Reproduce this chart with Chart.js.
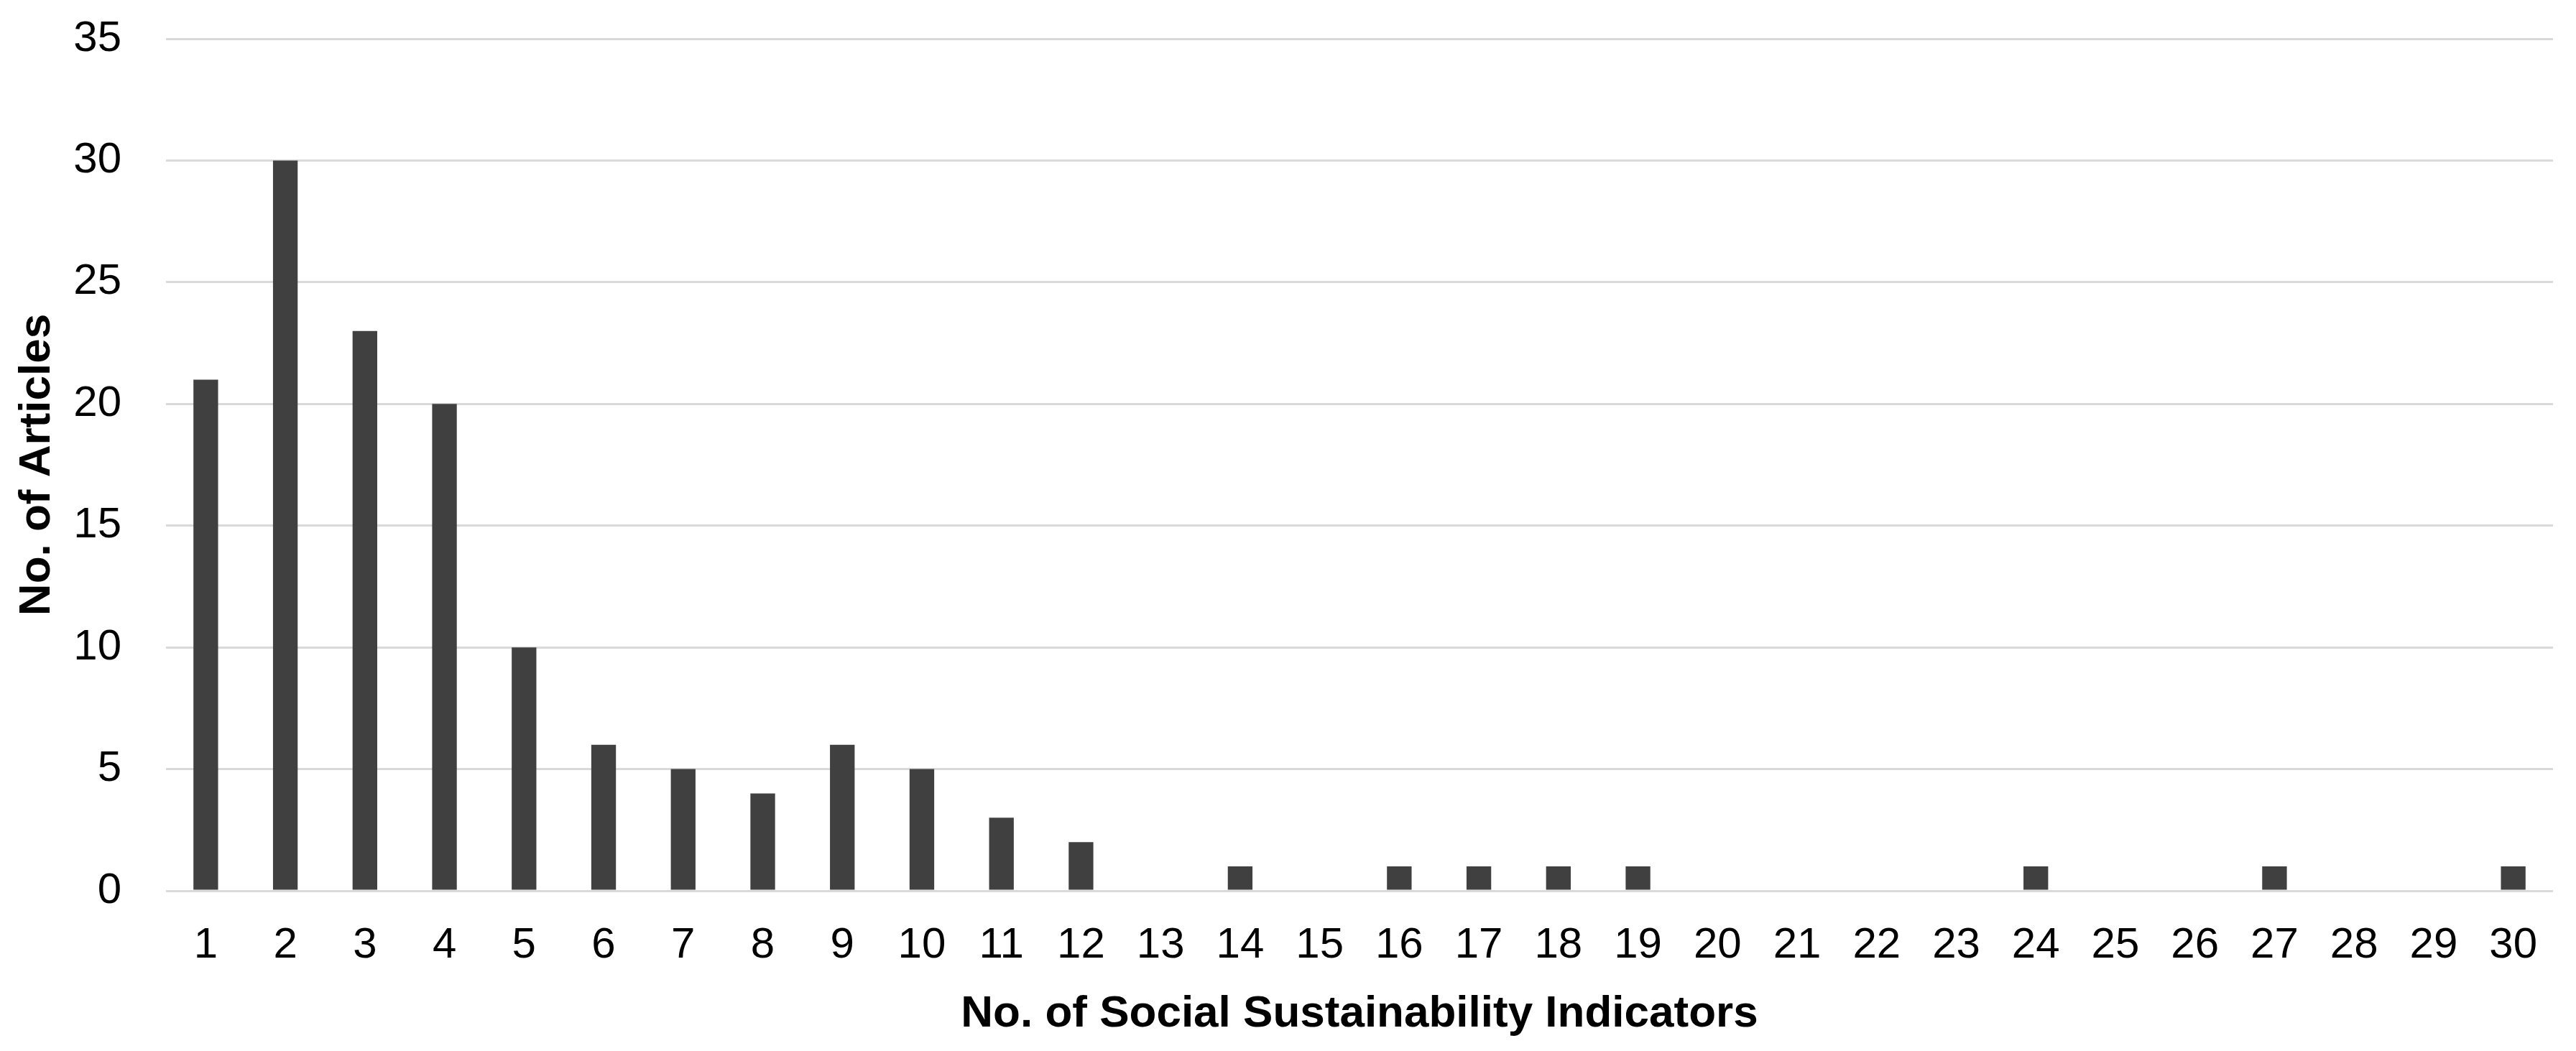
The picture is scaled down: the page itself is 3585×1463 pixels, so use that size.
<!DOCTYPE html>
<html lang="en">
<head>
  <meta charset="UTF-8" />
  <title>Social Sustainability Indicators per Article</title>
  <script src="https://cdn.jsdelivr.net/npm/chart.js"></script>
  <style>
    html, body {
      margin: 0;
      padding: 0;
      background: #ffffff;
    }
    #wrap {
      width: 3585px;
      height: 1463px;
    }
  </style>
</head>
<body>
  <div id="wrap"><canvas id="chart" width="3585" height="1463"></canvas></div>

  <script>
    // number of indicators per article (x) and how many articles (y)
    const indicators = ['1', '2', '3', '4', '5', '6', '7', '8', '9', '10',
      '11', '12', '13', '14', '15', '16', '17', '18', '19', '20',
      '21', '22', '23', '24', '25', '26', '27', '28', '29', '30'];
    const articles = [21, 30, 23, 20, 10, 6, 5, 4, 6, 5,
      3, 2, 0, 1, 0, 1, 1, 1, 1, 0,
      0, 0, 0, 1, 0, 0, 1, 0, 0, 1];
    const yTicks = [0, 5, 10, 15, 20, 25, 30, 35];

    const fontFamily = "'Liberation Sans', Arial, sans-serif";

    new Chart(document.getElementById('chart').getContext('2d'), {
      type: 'bar',
      data: {
        labels: indicators,
        datasets: [{
          label: 'No. of Articles',
          data: articles,
          backgroundColor: '#404040',
          borderWidth: 0,
          barPercentage: 0.62,
          categoryPercentage: 0.5
        }]
      },
      options: {
        responsive: false,
        animation: false,
        devicePixelRatio: 1,
        layout: {
          padding: { left: 0, right: 32, top: 54, bottom: 0 }
        },
        plugins: {
          legend: { display: false },
          tooltip: { enabled: false }
        },
        scales: {
          x: {
            grid: { display: false, drawTicks: false },
            border: { display: false },
            ticks: {
              color: '#000000',
              padding: 40,
              maxRotation: 0,
              autoSkip: false,
              font: { family: fontFamily, size: 60 }
            },
            title: {
              display: true,
              text: 'No. of Social Sustainability Indicators',
              color: '#000000',
              padding: { top: 0, bottom: 14 },
              font: { family: fontFamily, size: 62, weight: 'bold' }
            },
            afterFit: scale => { scale.height = 223; }
          },
          y: {
            min: 0,
            max: 35,
            afterBuildTicks: scale => {
              scale.ticks = yTicks.map(v => ({ value: v }));
            },
            grid: { color: '#d9d9d9', lineWidth: 3, drawTicks: false },
            border: { display: false },
            ticks: {
              color: '#000000',
              padding: 62,
              font: { family: fontFamily, size: 60 }
            },
            title: {
              display: true,
              text: 'No. of Articles',
              color: '#000000',
              padding: { top: 15, bottom: 0 },
              font: { family: fontFamily, size: 62, weight: 'bold' }
            },
            afterFit: scale => {
              scale.width = 231;
              scale.paddingTop = 0;
            }
          }
        }
      }
    });
  </script>
</body>
</html>
